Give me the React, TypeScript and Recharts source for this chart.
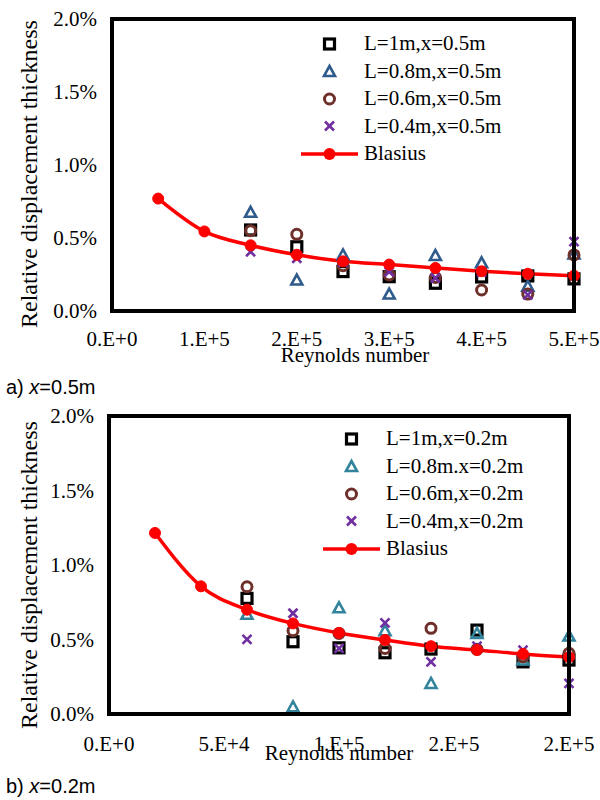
import React from 'react';
import { ComposedChart, Line, Scatter, XAxis, YAxis, Legend } from 'recharts';

const SERIF = "'Liberation Serif', 'Times New Roman', serif";
const SANS = "'Liberation Sans', Arial, sans-serif";

const RED = '#ff0000';
const BROWN = '#6e302b';
const PURPLE = '#7030a0';

// a) x = 0.5m
const reA = [150000, 200000, 250000, 300000, 350000, 400000, 450000, 500000];
const l1A = [0.555, 0.44, 0.27, 0.235, 0.19, 0.233, 0.24, 0.22];
const l08A = [0.676, 0.212, 0.384, 0.116, 0.38, 0.33, 0.17, 0.39];
const l06A = [0.55, 0.525, 0.31, 0.247, 0.23, 0.144, 0.116, 0.384];
const l04A = [0.406, 0.361, 0.335, 0.269, 0.226, 0.265, 0.11, 0.475];
const blasiusReA = [50000, 100000, 150000, 200000, 250000, 300000, 350000, 400000, 450000, 500000];
const blasiusA = [0.77, 0.545, 0.45, 0.385, 0.34, 0.318, 0.295, 0.272, 0.255, 0.242];
const xTicksA = [0, 100000, 200000, 300000, 400000, 500000];

// b) x = 0.2m
const reB = [60000, 80000, 100000, 120000, 140000, 160000, 180000, 200000];
const l1B = [0.776, 0.485, 0.444, 0.411, 0.436, 0.563, 0.35, 0.362];
const l08B = [0.669, 0.048, 0.713, 0.559, 0.205, 0.541, 0.362, 0.523];
const l06B = [0.854, 0.559, 0.541, 0.44, 0.575, 0.434, 0.384, 0.407];
const l04B = [0.501, 0.676, 0.44, 0.612, 0.35, 0.456, 0.429, 0.205];
const blasiusReB = [20000, 40000, 60000, 80000, 100000, 120000, 140000, 160000, 180000, 200000];
const blasiusB = [1.215, 0.857, 0.7, 0.608, 0.544, 0.497, 0.455, 0.43, 0.403, 0.382];
const xTicksB = [0, 50000, 100000, 150000, 200000];

const yTicks = [0, 0.5, 1, 1.5, 2];
const Y_MAX = 2;

const toPoints = (xs: number[], ys: number[]) => xs.map((re, i) => ({ re, d: ys[i] }));

// corners of the plot, walked round once, so a scatter line draws the frame
const frameCorners = (xMax: number) => [
  { re: 0, d: 0 },
  { re: xMax, d: 0 },
  { re: xMax, d: Y_MAX },
  { re: 0, d: Y_MAX },
  { re: 0, d: 0 },
];

// excel style "0.E+0" number format
const sciLabel = (v: number) => {
  if (v === 0) return '0.E+0';
  const exp = Math.floor(Math.log10(v));
  const mant = Math.round(v / Math.pow(10, exp));
  return `${mant}.E+${exp}`;
};

const Square = ({ cx, cy }: any) => (
  <rect x={cx - 5} y={cy - 5} width={10} height={10} fill="none" stroke="#000" strokeWidth={3.2} />
);

const Triangle = ({ cx, cy, color }: any) => (
  <polygon
    points={`${cx},${cy - 5.5} ${cx + 5.5},${cy + 4.5} ${cx - 5.5},${cy + 4.5}`}
    fill="none"
    stroke={color}
    strokeWidth={2.6}
  />
);

const Ring = ({ cx, cy }: any) => (
  <circle cx={cx} cy={cy} r={5} fill="none" stroke={BROWN} strokeWidth={3} />
);

const Cross = ({ cx, cy }: any) => (
  <g stroke={PURPLE} strokeWidth={2.6}>
    <line x1={cx - 4.5} y1={cy - 4.5} x2={cx + 4.5} y2={cy + 4.5} />
    <line x1={cx - 4.5} y1={cy + 4.5} x2={cx + 4.5} y2={cy - 4.5} />
  </g>
);

const BlasiusIcon = () => (
  <g>
    <line x1={0} y1={10} x2={57} y2={10} stroke={RED} strokeWidth={3.5} />
    <circle cx={28.5} cy={10} r={6} fill={RED} />
  </g>
);

const PLOT_TOP = 19;

interface PanelProps {
  top: number;
  plotLeft: number;
  plotRight: number;
  plotHeight: number;
  axisHeight: number;
  xMax: number;
  xTicks: number[];
  re: number[];
  l1: number[];
  l08: number[];
  l06: number[];
  l04: number[];
  blasiusRe: number[];
  blasius: number[];
  triColor: string;
  labels: string[];
  legendTop: number;
  legendLeft: number;
  xTickMargin: number;
  xLabelOffset: number;
  xLabelDx: number;
  yLabelDx: number;
  yLabelDy: number;
}

function Panel(p: PanelProps) {
  const height = PLOT_TOP + p.plotHeight + p.axisHeight;
  const icons = [
    <Square cx={28.5} cy={10} />,
    <Triangle cx={28.5} cy={10.5} color={p.triColor} />,
    <Ring cx={28.5} cy={10} />,
    <Cross cx={28.5} cy={10} />,
    <BlasiusIcon />,
  ];

  const renderLegend = () => (
    <div style={{ fontFamily: SERIF, fontSize: 21, color: '#000' }}>
      {p.labels.map((label, i) => (
        <div key={label} style={{ display: 'flex', alignItems: 'center', height: 27.5 }}>
          <svg width={57} height={20} style={{ overflow: 'visible' }}>
            {icons[i]}
          </svg>
          <span style={{ marginLeft: 6, whiteSpace: 'nowrap' }}>{label}</span>
        </div>
      ))}
    </div>
  );

  const tickStyle = { fill: '#000', fontSize: 21, fontFamily: SERIF };

  return (
    <div style={{ position: 'absolute', left: 0, top: p.top }}>
      <ComposedChart
        width={600}
        height={height}
        margin={{ top: PLOT_TOP, right: 600 - p.plotRight, bottom: 0, left: 0 }}
      >
        <XAxis
          type="number"
          dataKey="re"
          domain={[0, p.xMax]}
          ticks={p.xTicks}
          interval={0}
          tickFormatter={sciLabel}
          tickLine={false}
          axisLine={false}
          tickSize={0}
          tickMargin={p.xTickMargin}
          tick={tickStyle}
          height={p.axisHeight}
          label={{
            value: 'Reynolds number',
            position: 'insideBottom',
            offset: p.xLabelOffset,
            dx: p.xLabelDx,
            fill: '#000',
            fontSize: 21,
            fontFamily: SERIF,
          }}
        />
        <YAxis
          type="number"
          dataKey="d"
          domain={[0, Y_MAX]}
          ticks={yTicks}
          interval={0}
          tickFormatter={(v: number) => `${v.toFixed(1)}%`}
          tickLine={false}
          axisLine={false}
          tickSize={0}
          tickMargin={15}
          tick={tickStyle}
          width={p.plotLeft}
          label={{
            value: 'Relative displacement thickness',
            angle: -90,
            position: 'center',
            dx: p.yLabelDx,
            dy: p.yLabelDy,
            fill: '#000',
            fontSize: 24,
            fontFamily: SERIF,
          }}
        />
        <Line
          data={toPoints(p.blasiusRe, p.blasius)}
          dataKey="d"
          type="monotone"
          stroke={RED}
          strokeWidth={3.5}
          dot={{ r: 5.5, fill: RED, stroke: RED, strokeWidth: 1 }}
          activeDot={false}
          isAnimationActive={false}
        />
        <Scatter data={toPoints(p.re, p.l1)} dataKey="d" shape={(s: any) => <Square {...s} />} isAnimationActive={false} />
        <Scatter
          data={toPoints(p.re, p.l08)}
          dataKey="d"
          shape={(s: any) => <Triangle {...s} color={p.triColor} />}
          isAnimationActive={false}
        />
        <Scatter data={toPoints(p.re, p.l06)} dataKey="d" shape={(s: any) => <Ring {...s} />} isAnimationActive={false} />
        <Scatter data={toPoints(p.re, p.l04)} dataKey="d" shape={(s: any) => <Cross {...s} />} isAnimationActive={false} />
        {/* plot frame */}
        <Scatter
          data={frameCorners(p.xMax)}
          dataKey="d"
          line={{ stroke: '#000', strokeWidth: 4, strokeLinecap: 'square' }}
          lineType="joint"
          shape={() => <g />}
          legendType="none"
          isAnimationActive={false}
        />
        <Legend
          layout="vertical"
          align="center"
          verticalAlign="middle"
          wrapperStyle={{ top: p.legendTop, left: p.legendLeft, width: 'auto' }}
          content={renderLegend}
        />
      </ComposedChart>
      {/* same frame again as a plain box, kept on top in case the svg one is hidden */}
      <div
        style={{
          position: 'absolute',
          zIndex: 5,
          left: p.plotLeft - 2,
          top: PLOT_TOP - 2,
          width: p.plotRight - p.plotLeft + 4,
          height: p.plotHeight + 4,
          border: '4px solid #000',
          boxSizing: 'border-box',
          pointerEvents: 'none',
        }}
      />
    </div>
  );
}

const captionStyle: React.CSSProperties = {
  position: 'absolute',
  left: 6,
  fontFamily: SANS,
  fontSize: 20,
  lineHeight: 1,
  color: '#000',
  whiteSpace: 'nowrap',
};

export default function App() {
  return (
    <div style={{ position: 'absolute', left: 0, top: 0, width: 600, height: 800, background: '#fff' }}>
      <Panel
        top={0}
        plotLeft={112}
        plotRight={574}
        plotHeight={292}
        axisHeight={64}
        xMax={500000}
        xTicks={xTicksA}
        re={reA}
        l1={l1A}
        l08={l08A}
        l06={l06A}
        l04={l04A}
        blasiusRe={blasiusReA}
        blasius={blasiusA}
        triColor="#2f5b8c"
        labels={['L=1m,x=0.5m', 'L=0.8m,x=0.5m', 'L=0.6m,x=0.5m', 'L=0.4m,x=0.5m', 'Blasius']}
        legendTop={30}
        legendLeft={301}
        xTickMargin={20}
        xLabelOffset={13}
        xLabelDx={12}
        yLabelDx={-28}
        yLabelDy={9}
      />
      <div style={{ ...captionStyle, top: 377 }}>
        a) <i>x</i>=0.5m
      </div>
      <Panel
        top={397}
        plotLeft={109}
        plotRight={569}
        plotHeight={298}
        axisHeight={58}
        xMax={200000}
        xTicks={xTicksB}
        re={reB}
        l1={l1B}
        l08={l08B}
        l06={l06B}
        l04={l04B}
        blasiusRe={blasiusReB}
        blasius={blasiusB}
        triColor="#31849b"
        labels={['L=1m,x=0.2m', 'L=0.8m.x=0.2m', 'L=0.6m,x=0.2m', 'L=0.4m,x=0.2m', 'Blasius']}
        legendTop={28}
        legendLeft={323}
        xTickMargin={22}
        xLabelOffset={12}
        xLabelDx={0}
        yLabelDx={-26}
        yLabelDy={10}
      />
      <div style={{ ...captionStyle, top: 776 }}>
        b) <i>x</i>=0.2m
      </div>
    </div>
  );
}
